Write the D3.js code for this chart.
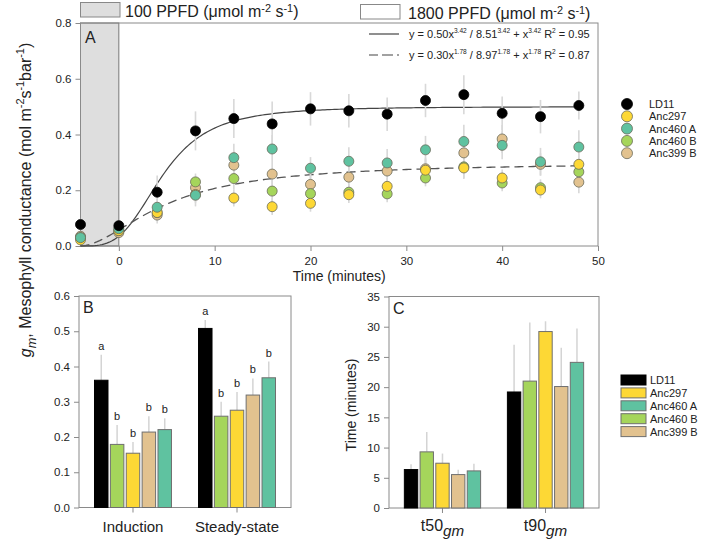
<!DOCTYPE html>
<html><head><meta charset="utf-8">
<script src="https://cdn.jsdelivr.net/npm/d3@7"></script>
<style>body{margin:0;background:#fff} svg{display:block} text{font-family:"Liberation Sans",Arial,sans-serif;fill:#222}</style>
</head><body><svg id="c" width="702" height="544"></svg>
<script>
// ---------- DATA ----------
const times = [-4, 0, 4, 8, 12, 16, 20, 24, 28, 32, 36, 40, 44, 48];
const seriesNames = ["LD11", "Anc297", "Anc460 A", "Anc460 B", "Anc399 B"];
const seriesColors = ["#000000", "#FDD835", "#5FC2A0", "#A5D55B", "#E2C28F"];
const ld11 = [0.077, 0.073, 0.193, 0.413, 0.457, 0.438, 0.492, 0.485, 0.473, 0.522, 0.543, 0.476, 0.464, 0.504];
const anc297 = [0.022, 0.055, 0.120, 0.185, 0.172, 0.141, 0.153, 0.184, 0.214, 0.272, 0.280, 0.244, 0.201, 0.293];
const anc460A = [0.030, 0.062, 0.139, 0.182, 0.317, 0.348, 0.279, 0.304, 0.298, 0.345, 0.375, 0.361, 0.302, 0.355];
const anc460B = [0.030, 0.055, 0.120, 0.230, 0.242, 0.197, 0.188, 0.193, 0.187, 0.244, 0.284, 0.226, 0.209, 0.266];
const anc399B = [0.035, 0.048, 0.111, 0.209, 0.290, 0.258, 0.221, 0.247, 0.269, 0.277, 0.334, 0.384, 0.293, 0.229];
const ld11Err = [0.02, 0.015, 0.06, 0.07, 0.07, 0.08, 0.06, 0.06, 0.06, 0.06, 0.07, 0.06, 0.06, 0.05];
const anc297Err = [0.01, 0.01, 0.03, 0.03, 0.03, 0.03, 0.03, 0.03, 0.03, 0.04, 0.04, 0.03, 0.03, 0.04];
const anc460AErr = [0.01, 0.01, 0.03, 0.04, 0.05, 0.05, 0.04, 0.05, 0.05, 0.05, 0.06, 0.05, 0.05, 0.06];
const anc460BErr = [0.01, 0.01, 0.03, 0.03, 0.04, 0.04, 0.03, 0.03, 0.03, 0.03, 0.04, 0.03, 0.03, 0.04];
const anc399BErr = [0.01, 0.01, 0.03, 0.04, 0.05, 0.04, 0.04, 0.04, 0.04, 0.04, 0.05, 0.05, 0.04, 0.04];

// fitted curves: y = a t^n / (k^n + t^n), t = time - fitStart
const fitA = [0.50, 0.30];
const fitK = [8.51, 8.97];
const fitN = [3.42, 1.78];
const fitR2 = [0.95, 0.87];
const fitStart = -4;

const xTicksA = [0, 10, 20, 30, 40, 50];
const yTicksA = [0, 0.2, 0.4, 0.6, 0.8];

const barOrder = ["LD11", "Anc460 B", "Anc297", "Anc399 B", "Anc460 A"];
const groupsB = ["Induction", "Steady-state"];
const inductionVals = [0.361, 0.179, 0.154, 0.214, 0.221];
const inductionErr = [0.072, 0.055, 0.032, 0.045, 0.032];
const steadyVals = [0.508, 0.259, 0.276, 0.319, 0.368];
const steadyErr = [0.024, 0.041, 0.052, 0.047, 0.046];
const lettersB = ["a", "b", "b", "b", "b"];
const yTicksB = [0, 0.1, 0.2, 0.3, 0.4, 0.5, 0.6];

const groupsC = ["t50", "t90"];
const t50Vals = [6.36, 9.29, 7.41, 5.53, 6.14];
const t50Err = [0.9, 3.3, 1.6, 0.8, 1.2];
const t90Vals = [19.2, 21.0, 29.2, 20.1, 24.1];
const t90Err = [7.8, 9.7, 1.7, 6.4, 5.6];
const yTicksC = [0, 5, 10, 15, 20, 25, 30, 35];

// ---------- HELPERS ----------
const svg = d3.select("#c");
const colorOf = d3.scaleOrdinal().domain(seriesNames).range(seriesColors);
const AX = "#8a8a8a";

function rich(sel, parts, fs, supK = 0.45) {
  let prev = 0;
  parts.forEach(p => {
    const shift = p.s === "sup" ? -fs * supK : p.s === "sub" ? fs * 0.3 : 0;
    const ts = sel.append("tspan").text(p.t).attr("dy", shift - prev);
    if (p.s) ts.attr("font-size", fs * (p.scale || 0.68));
    if (p.i) ts.attr("font-style", "italic");
    prev = shift;
  });
}

function frame(g, x0, x1, y0, y1) {
  g.append("rect").attr("x", x0).attr("y", y0).attr("width", x1 - x0).attr("height", y1 - y0)
    .attr("fill", "none").attr("stroke", AX).attr("stroke-width", 1);
}

function styleAxis(ax) {
  ax.select(".domain").remove();
  ax.selectAll(".tick line").attr("stroke", AX);
  ax.selectAll(".tick text").attr("fill", "#333").attr("font-size", 11.5)
    .attr("font-family", '"Liberation Sans",Arial,sans-serif');
}

// ---------- PANEL A ----------
const xA = d3.scaleLinear().domain([-4, 50]).range([80.5, 598]);
const yA = d3.scaleLinear().domain([0, 0.8]).range([246, 23]);

svg.append("rect").attr("x", xA(-4)).attr("y", yA(0.8)).attr("width", xA(0) - xA(-4)).attr("height", yA(0) - yA(0.8))
  .attr("fill", "#dedede").attr("stroke", "#777").attr("stroke-width", 1);

frame(svg, xA(-4), xA(50), yA(0.8), yA(0));

const axAx = svg.append("g").attr("transform", `translate(0,${yA(0)})`)
  .call(d3.axisBottom(xA).tickValues(xTicksA).tickSize(5).tickPadding(6));
styleAxis(axAx);
const axAy = svg.append("g").attr("transform", `translate(${xA(-4)},0)`)
  .call(d3.axisLeft(yA).tickValues(yTicksA).tickFormat(d3.format(".1f")).tickSize(5).tickPadding(4));
styleAxis(axAy);

// fit curves
const curveX = d3.range(-4, 48.01, 0.25);
const line = d3.line().x(d => xA(d[0])).y(d => yA(d[1]));
[0, 1].forEach(i => {
  const pts = curveX.map(x => {
    const t = x - fitStart;
    const tn = Math.pow(t, fitN[i]);
    return [x, fitA[i] * tn / (Math.pow(fitK[i], fitN[i]) + tn)];
  });
  svg.append("path").attr("d", line(pts)).attr("fill", "none").attr("stroke", i ? "#555" : "#444")
    .attr("stroke-width", i ? 1.3 : 1.2).attr("stroke-dasharray", i ? "9,5" : null);
});

const seriesData = {
  "LD11": [ld11, ld11Err], "Anc297": [anc297, anc297Err], "Anc460 A": [anc460A, anc460AErr],
  "Anc460 B": [anc460B, anc460BErr], "Anc399 B": [anc399B, anc399BErr]
};
const drawOrder = ["Anc399 B", "Anc460 B", "Anc297", "Anc460 A", "LD11"];
drawOrder.forEach(name => {
  const [vals, errs] = seriesData[name];
  svg.append("g").selectAll("line").data(times).join("line")
    .attr("x1", (d) => xA(d)).attr("x2", d => xA(d))
    .attr("y1", (d, i) => yA(vals[i] - errs[i])).attr("y2", (d, i) => yA(vals[i] + errs[i]))
    .attr("stroke", "#d8d8d8").attr("stroke-width", 1.6);
});
drawOrder.forEach(name => {
  const [vals] = seriesData[name];
  svg.append("g").selectAll("circle").data(times).join("circle")
    .attr("cx", d => xA(d)).attr("cy", (d, i) => yA(vals[i])).attr("r", 5)
    .attr("fill", colorOf(name)).attr("stroke", name === "LD11" ? "#000" : "#6b6b5a").attr("stroke-width", 0.8);
});

svg.append("text").attr("x", 85).attr("y", 43).attr("font-size", 16).text("A");

// fit legend
const fitLegY = [34, 55];
[0, 1].forEach(i => {
  svg.append("line").attr("x1", 369).attr("x2", 399).attr("y1", fitLegY[i]).attr("y2", fitLegY[i])
    .attr("stroke", "#444").attr("stroke-width", 1.2).attr("stroke-dasharray", i ? "9,4,2,0" : null);
  const t = svg.append("text").attr("x", 409).attr("y", fitLegY[i] + 4).attr("font-size", 11);
  const a = fitA[i].toFixed(2), k = fitK[i].toFixed(2), n = fitN[i].toFixed(2);
  rich(t, [{t: `y = ${a}x`}, {t: n, s: "sup", scale: 0.6}, {t: ` / ${k}`}, {t: n, s: "sup", scale: 0.6},
    {t: " + x"}, {t: n, s: "sup", scale: 0.6}, {t: "  R"}, {t: "2", s: "sup", scale: 0.6}, {t: ` = ${fitR2[i].toFixed(2)}`}], 11);
});

// light labels on top
svg.append("rect").attr("x", 80.5).attr("y", 2.5).attr("width", 39.5).attr("height", 14.5)
  .attr("fill", "#dedede").attr("stroke", "#888");
rich(svg.append("text").attr("x", 125).attr("y", 17).attr("font-size", 16),
  [{t: "100 PPFD (\u03bcmol m"}, {t: "-2", s: "sup"}, {t: " s"}, {t: "-1", s: "sup"}, {t: ")"}], 16, 0.3);
svg.append("rect").attr("x", 360.5).attr("y", 4.5).attr("width", 39.5).attr("height", 14.5)
  .attr("fill", "#fff").attr("stroke", "#888");
rich(svg.append("text").attr("x", 408).attr("y", 18.5).attr("font-size", 16),
  [{t: "1800 PPFD (\u03bcmol m"}, {t: "-2", s: "sup"}, {t: " s"}, {t: "-1", s: "sup"}, {t: ")"}], 16, 0.3);

svg.append("text").attr("x", (xA(-4) + xA(50)) / 2).attr("y", 281).attr("text-anchor", "middle")
  .attr("font-size", 14).text("Time (minutes)");

// series legend
seriesNames.forEach((name, i) => {
  const y = 104 + i * 12.3;
  svg.append("circle").attr("cx", 627).attr("cy", y).attr("r", 5.5).attr("fill", colorOf(name))
    .attr("stroke", name === "LD11" ? "#000" : "#6b6b5a").attr("stroke-width", 0.8);
  svg.append("text").attr("x", 649).attr("y", y + 4).attr("font-size", 11).text(name);
});

// shared y label
rich(svg.append("text").attr("transform", "translate(31,200) rotate(-90)").attr("text-anchor", "middle").attr("font-size", 16),
  [{t: "g", i: true}, {t: "m", s: "sub", i: true, scale: 0.8}, {t: ", Mesophyll conductance (mol m"}, {t: "-2", s: "sup"},
   {t: "s"}, {t: "-1", s: "sup"}, {t: "bar"}, {t: "-1", s: "sup"}, {t: ")"}], 16);

// ---------- BAR PANELS ----------
function barPanel(opts) {
  const {x0, x1, y0, y1, ydom, yticks, fmt, groups, vals, errs, letters, label} = opts;
  const x = d3.scaleBand().domain(groups).range([x0, x1]).paddingInner(0.26).paddingOuter(0.149);
  const xi = d3.scaleBand().domain(barOrder).range([0, x.bandwidth()]).paddingInner(0.15);
  const y = d3.scaleLinear().domain(ydom).range([y1, y0]);
  frame(svg, x0, x1, y0, y1);
  const ax = svg.append("g").attr("transform", `translate(0,${y1})`)
    .call(d3.axisBottom(x).tickSize(5).tickFormat(""));
  styleAxis(ax);
  const ay = svg.append("g").attr("transform", `translate(${x0},0)`)
    .call(d3.axisLeft(y).tickValues(yticks).tickFormat(fmt).tickSize(5).tickPadding(4));
  styleAxis(ay);
  groups.forEach((g, gi) => {
    const gx = x(g);
    barOrder.forEach((name, bi) => {
      const v = vals[gi][bi], e = errs[gi][bi];
      const cx = gx + xi(name) + xi.bandwidth() / 2;
      svg.append("line").attr("x1", cx).attr("x2", cx).attr("y1", y(v)).attr("y2", y(v + e))
        .attr("stroke", "#d4d4d4").attr("stroke-width", 1.5);
      svg.append("rect").attr("x", gx + xi(name)).attr("y", y(v)).attr("width", xi.bandwidth()).attr("height", y(0) - y(v))
        .attr("fill", colorOf(name)).attr("stroke", name === "LD11" ? "#000" : "#6f6f6f").attr("stroke-width", 1);
      if (letters) {
        svg.append("text").attr("x", cx).attr("y", y(v + e) - 5).attr("text-anchor", "middle")
          .attr("font-size", 11).style("fill", "#222").text(letters[bi]);
      }
    });
  });
  svg.append("text").attr("x", x0 + 4).attr("y", y0 + 17).attr("font-size", 16).text(label);
  return x;
}

const xB = barPanel({x0: 79, x1: 291, y0: 296, y1: 507.5, ydom: [0, 0.6], yticks: yTicksB, fmt: d3.format(".1f"),
  groups: groupsB, vals: [inductionVals, steadyVals], errs: [inductionErr, steadyErr], letters: lettersB, label: "B"});
groupsB.forEach(g => {
  svg.append("text").attr("x", xB(g) + xB.bandwidth() / 2).attr("y", 532).attr("text-anchor", "middle")
    .attr("font-size", 15).text(g);
});

const xC = barPanel({x0: 389, x1: 599, y0: 296.5, y1: 508, ydom: [0, 35], yticks: yTicksC, fmt: d3.format("d"),
  groups: groupsC, vals: [t50Vals, t90Vals], errs: [t50Err, t90Err], letters: null, label: "C"});
groupsC.forEach(g => {
  const t = svg.append("text").attr("x", xC(g) + xC.bandwidth() / 2).attr("y", 531).attr("text-anchor", "middle")
    .attr("font-size", 16);
  rich(t, [{t: g}, {t: "gm", s: "sub", i: true, scale: 0.95}], 16);
});

svg.append("text").attr("transform", "translate(356,405) rotate(-90)").attr("text-anchor", "middle")
  .attr("font-size", 14).text("Time (minutes)");

// bar legend
seriesNames.forEach((name, i) => {
  const y = 380 + i * 12.9;
  svg.append("rect").attr("x", 621).attr("y", y - 5).attr("width", 25).attr("height", 10)
    .attr("fill", colorOf(name)).attr("stroke", name === "LD11" ? "#000" : "#6f6f6f").attr("stroke-width", 1);
  svg.append("text").attr("x", 650).attr("y", y + 4).attr("font-size", 11).text(name);
});
</script></body></html>
